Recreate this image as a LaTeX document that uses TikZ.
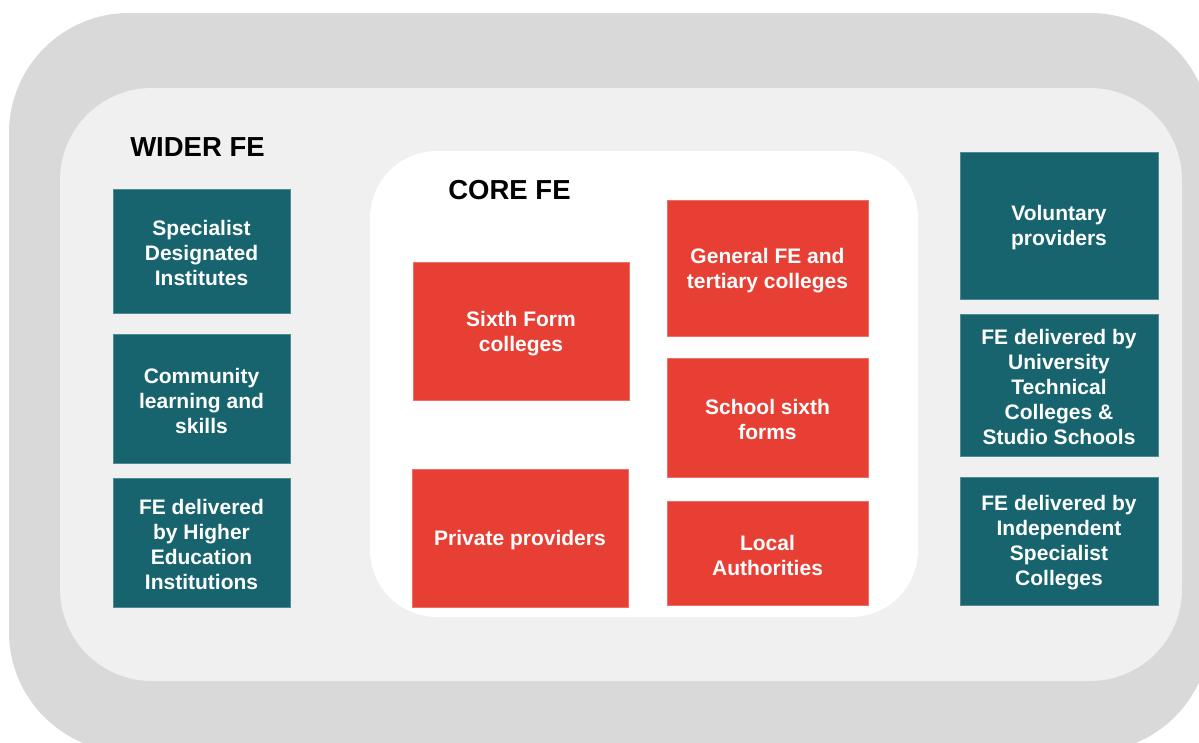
\documentclass[tikz,border=0pt]{standalone}
\usepackage{fontspec}
\setmainfont{Liberation Sans}
\definecolor{outerg}{HTML}{D9D9D9}
\definecolor{innerg}{HTML}{F0F0F0}
\definecolor{tealbox}{HTML}{17646E}
\definecolor{redbox}{HTML}{E83F35}
\tikzset{
  wbox/.style={fill=tealbox, draw=tealbox!75!white, line width=0.8pt, inner sep=0pt},
  cbox/.style={fill=redbox, draw=redbox!75!white, line width=0.8pt, inner sep=0pt},
  btxt/.style={text=white, font=\fontsize{21}{25}\selectfont\bfseries, align=center, inner sep=0pt},
  ttl/.style={font=\fontsize{27.5}{30}\selectfont\bfseries, text=black, inner sep=0pt}
}
\begin{document}
\begin{tikzpicture}[x=1pt, y=-1pt]
\useasboundingbox (0,0) rectangle (1199,742);
\clip (0,0) rectangle (1199,742);
\fill[white] (0,0) rectangle (1199,742);
% layers
\fill[outerg, rounded corners=120pt] (9,13) rectangle (1210,752);
\fill[innerg, rounded corners=92pt] (60,88) rectangle (1182,681);
\fill[white, rounded corners=67pt] (370,151) rectangle (918,617);
% titles
\node[ttl] (wider) at (197.5,147.5) {WIDER FE};
\node[ttl] (core) at (509.5,190.5) {CORE FE};
% wider FE left
\node[wbox, minimum width=177pt, minimum height=124pt] (sdi) at (201.5,251) {};
\node[wbox, minimum width=177pt, minimum height=129pt] (cls) at (201.5,398.5) {};
\node[wbox, minimum width=177pt, minimum height=129pt] (hei) at (201.5,542.5) {};
% wider FE right
\node[wbox, minimum width=198pt, minimum height=147pt] (vol) at (1059,225.5) {};
\node[wbox, minimum width=198pt, minimum height=142pt] (utc) at (1059,385) {};
\node[wbox, minimum width=198pt, minimum height=128pt] (isc) at (1059,541) {};
% core FE
\node[cbox, minimum width=216pt, minimum height=138pt] (sfc) at (521,331) {};
\node[cbox, minimum width=201pt, minimum height=136pt] (gfe) at (767.5,268) {};
\node[cbox, minimum width=201pt, minimum height=119pt] (ssf) at (767.5,417.5) {};
\node[cbox, minimum width=216pt, minimum height=138pt] (pp) at (520,538) {};
\node[cbox, minimum width=201pt, minimum height=104pt] (la) at (767.5,553) {};
% texts
\node[btxt] (tsdi) at ([yshift=-2pt]sdi.center) {Specialist\\Designated\\Institutes};
\node[btxt] (tcls) at ([yshift=-2pt]cls.center) {Community\\learning and\\skills};
\node[btxt] (thei) at ([yshift=-2pt]hei.center) {FE delivered\\by Higher\\Education\\Institutions};
\node[btxt] (tvol) at ([yshift=-2pt]vol.center) {Voluntary\\providers};
\node[btxt] (tutc) at ([yshift=-2pt]utc.center) {FE delivered by\\University\\Technical\\Colleges \&\\Studio Schools};
\node[btxt] (tisc) at ([yshift=-2pt]isc.center) {FE delivered by\\Independent\\Specialist\\Colleges};
\node[btxt] (tsfc) at ([yshift=-2.5pt]sfc.center) {Sixth Form\\colleges};
\node[btxt] (tgfe) at ([yshift=-2.5pt]gfe.center) {General FE and\\tertiary colleges};
\node[btxt] (tssf) at ([yshift=-2pt]ssf.center) {School sixth\\forms};
\node[btxt] (tpp) at ([yshift=-2.5pt]pp.center) {Private providers};
\node[btxt] (tla) at ([yshift=-2pt]la.center) {Local\\Authorities};
\end{tikzpicture}
\end{document}
